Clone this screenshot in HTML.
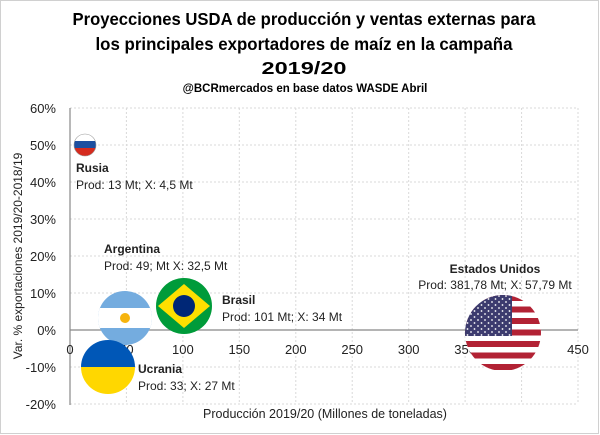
<!DOCTYPE html>
<html><head><meta charset="utf-8"><style>
body{margin:0;background:#fff}
svg{display:block;font-family:"Liberation Sans",sans-serif}
</style></head><body>
<svg width="600" height="435" viewBox="0 0 600 435" xmlns="http://www.w3.org/2000/svg">
<defs>
<clipPath id="cr"><circle cx="85" cy="145" r="11"/></clipPath>
<clipPath id="ca"><circle cx="125" cy="318" r="27"/></clipPath>
<clipPath id="cb"><circle cx="184" cy="306" r="28"/></clipPath>
<clipPath id="cu"><circle cx="108" cy="367" r="27"/></clipPath>
<clipPath id="cus"><circle cx="503" cy="333" r="38"/></clipPath>
<pattern id="stars" width="7" height="6" patternUnits="userSpaceOnUse"><circle cx="2" cy="2" r="0.9" fill="#fff"/><circle cx="5.5" cy="5" r="0.9" fill="#fff"/></pattern>
</defs>
<rect x="0.5" y="0.5" width="598" height="433" fill="#fff" stroke="#d0d0d0"/>
<g font-weight="bold" font-size="17.5" text-anchor="middle" fill="#000">
<text x="304" y="25" textLength="463" lengthAdjust="spacingAndGlyphs">Proyecciones USDA de producción y ventas externas para</text>
<text x="304" y="50" textLength="417" lengthAdjust="spacingAndGlyphs">los principales exportadores de maíz en la campaña</text>
<text x="304" y="74" textLength="85" lengthAdjust="spacingAndGlyphs">2019/20</text>
<text x="305" y="92" font-size="11.5">@BCRmercados en base datos WASDE Abril</text>
</g>
<g stroke="#d9d9d9" stroke-dasharray="2,2" stroke-width="1">
<line x1="70" y1="108" x2="578" y2="108"/><line x1="70" y1="145" x2="578" y2="145"/>
<line x1="70" y1="182" x2="578" y2="182"/><line x1="70" y1="219" x2="578" y2="219"/>
<line x1="70" y1="256" x2="578" y2="256"/><line x1="70" y1="293" x2="578" y2="293"/>
<line x1="70" y1="367" x2="578" y2="367"/><line x1="70" y1="404" x2="578" y2="404"/>
<line x1="126.4" y1="108" x2="126.4" y2="404"/><line x1="182.9" y1="108" x2="182.9" y2="404"/>
<line x1="239.3" y1="108" x2="239.3" y2="404"/><line x1="295.8" y1="108" x2="295.8" y2="404"/>
<line x1="352.2" y1="108" x2="352.2" y2="404"/><line x1="408.7" y1="108" x2="408.7" y2="404"/>
<line x1="465.1" y1="108" x2="465.1" y2="404"/><line x1="521.6" y1="108" x2="521.6" y2="404"/>
<line x1="578" y1="108" x2="578" y2="404"/>
</g>
<line x1="70" y1="108" x2="70" y2="405" stroke="#888" stroke-width="1.2"/>
<line x1="70" y1="330" x2="578" y2="330" stroke="#888" stroke-width="1.2"/>
<g font-size="13" fill="#222" text-anchor="end">
<text x="56" y="113">60%</text><text x="56" y="150">50%</text><text x="56" y="187">40%</text>
<text x="56" y="224">30%</text><text x="56" y="261">20%</text><text x="56" y="298">10%</text>
<text x="56" y="335">0%</text><text x="56" y="372">-10%</text><text x="56" y="409">-20%</text>
</g>
<g font-size="13" fill="#222" text-anchor="middle">
<text x="70" y="354">0</text><text x="126.4" y="354">50</text><text x="182.9" y="354">100</text>
<text x="239.3" y="354">150</text><text x="295.8" y="354">200</text><text x="352.2" y="354">250</text>
<text x="408.7" y="354">300</text><text x="465.1" y="354">350</text><text x="521.6" y="354">400</text>
<text x="578" y="354">450</text>
</g>
<text x="325" y="418" font-size="12.5" fill="#222" text-anchor="middle">Producción 2019/20 (Millones de toneladas)</text>
<text transform="translate(22,256) rotate(-90)" font-size="12" fill="#222" text-anchor="middle">Var. % exportaciones 2019/20-2018/19</text>
<g clip-path="url(#cr)"><rect x="74" y="134" width="22" height="8" fill="#fff"/><rect x="74" y="141" width="22" height="8" fill="#1c4fa0"/><rect x="74" y="148" width="22" height="8" fill="#d52b1e"/></g>
<circle cx="85" cy="145" r="11" fill="none" stroke="#999" stroke-width="0.6"/>
<g clip-path="url(#ca)"><rect x="98" y="291" width="54" height="54" fill="#74acdf"/><rect x="98" y="308" width="54" height="20" fill="#fff"/><circle cx="125" cy="318" r="5" fill="#f6b40e"/></g>
<g clip-path="url(#cb)"><rect x="156" y="278" width="56" height="56" fill="#009b3a"/><polygon points="184,284 210,306 184,328 158,306" fill="#fedf00"/><circle cx="184" cy="306" r="11" fill="#002776"/></g>
<g clip-path="url(#cu)"><rect x="81" y="340" width="54" height="27" fill="#0057b7"/><rect x="81" y="367" width="54" height="27" fill="#ffd700"/></g>
<g clip-path="url(#cus)">
<rect x="465" y="295" width="76" height="76" fill="#fff"/>
<g fill="#b22234"><rect x="465" y="295" width="76" height="6"/><rect x="465" y="306.5" width="76" height="6"/><rect x="465" y="318" width="76" height="6"/><rect x="465" y="329.5" width="76" height="6"/><rect x="465" y="341" width="76" height="6"/><rect x="465" y="352.5" width="76" height="6"/><rect x="465" y="364" width="76" height="6"/></g>
<rect x="465" y="295" width="47" height="41" fill="#3c3b6e"/>
<rect x="465" y="295" width="47" height="41" fill="url(#stars)"/>
</g>
<g font-size="12" fill="#222">
<text x="76" y="172" font-weight="bold">Rusia</text><text x="76" y="189">Prod: 13 Mt; X: 4,5 Mt</text>
<text x="104" y="253" font-weight="bold">Argentina</text><text x="104" y="270">Prod: 49; Mt X: 32,5 Mt</text>
<text x="222" y="304" font-weight="bold">Brasil</text><text x="222" y="321">Prod: 101 Mt; X: 34 Mt</text>
<text x="138" y="373" font-weight="bold">Ucrania</text><text x="138" y="390">Prod: 33; X: 27 Mt</text>
<text x="495" y="273" font-weight="bold" text-anchor="middle">Estados  Unidos</text><text x="495" y="289" text-anchor="middle">Prod: 381,78 Mt; X: 57,79 Mt</text>
</g>
</svg>
</body></html>
